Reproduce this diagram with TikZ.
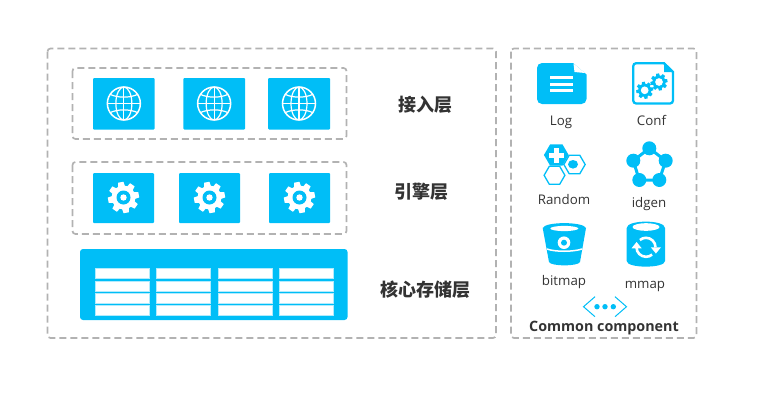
\documentclass[tikz,border=0pt]{standalone}
\usepackage{fontspec}
\setmainfont{Open Sans}
\newfontfamily\cjk{Noto Sans CJK SC}
\usetikzlibrary{positioning}
\definecolor{skyblue}{RGB}{0,190,247}
\definecolor{dashgray}{RGB}{178,178,178}
\definecolor{labelgray}{RGB}{51,51,51}

% teeth and body of a gear
\newcommand{\gearbody}{
    \foreach \ang in {0,45,...,315}
        \fill [pic actions, rotate=\ang+10] (-3.4,-11) -- (-2.7,-15.5) -- (2.7,-15.5) -- (3.4,-11) -- cycle;
    \fill [pic actions] (0,0) circle (12);
}

\tikzset{
    % white globe on a tile
    globe/.pic={
        \draw [white, line width=1.5pt] (0,0) circle (16.5);
        \draw [white, line width=1.2pt] (0,0) ellipse (8 and 16.5);
        \draw [white, line width=1.2pt] (0,-16.5) -- (0,16.5);
        \draw [white, line width=1.2pt] (-16.5,0) -- (16.5,0);
        \draw [white, line width=1.2pt] (-13.5,-9) .. controls (-6,-5.5) and (6,-5.5) .. (13.5,-9);
        \draw [white, line width=1.2pt] (-13.5,9) .. controls (-6,5.5) and (6,5.5) .. (13.5,9);
    },
    % gear on a tile
    gear/.pic={
        \gearbody
        \fill [skyblue] (0,0) circle (7);
        \fill [pic actions] (0,0) circle (3.2);
    },
    % small gear with a plain hole
    geartiny/.pic={
        \gearbody
        \fill [white] (0,0) circle (7);
    },
    % flat topped hexagon
    hexa/.pic={
        \path [pic actions] (-13,0) -- (-6.5,-11.2) -- (6.5,-11.2) -- (13,0) -- (6.5,11.2) -- (-6.5,11.2) -- cycle;
    }
}

\begin{document}
\begin{tikzpicture}
    [x=1pt, y=-1pt,
    % Dashed frames
    frame/.style={draw=dashgray, line width=1.7pt, dash pattern=on 7pt off 4pt, rounded corners=3pt},
    % Blue tiles
    tile/.style={fill=skyblue, rounded corners=1pt},
    % Rows of the table
    cell/.style={fill=white, draw=white!70!skyblue, line width=0.4pt},
    % Texts
    layer/.style={font=\cjk\bfseries\fontsize{18}{20}\selectfont, text=labelgray, inner sep=0pt},
    label/.style={font=\fontsize{13.3}{15}\selectfont, text=labelgray, inner sep=0pt}]
    \useasboundingbox (0,0) rectangle (758,407);
    % Frames
    \draw [frame] (47.5,48.5) rectangle (496,338);
    \draw [frame] (511,48.5) rectangle (696.5,338);
    \draw [frame] (72.5,68) rectangle (346.5,139);
    \draw [frame] (72.5,162) rectangle (346.5,234);
    % Access layer
    \foreach \xa/\xb in {93/154.7,183.3/245,268/330} {
        \fill [tile] (\xa,78) rectangle (\xb,129.5);
        \pic at ({(\xa+\xb)/2},103.5) {globe};
    }
    \node [layer] (access) at (425,105) {接入层};
    % Engine layer
    \foreach \xa/\xb in {93/154,179/240,269/330} {
        \fill [tile] (\xa,173) rectangle (\xb,223);
        \pic [fill=white] at ({(\xa+\xb)/2},197.5) {gear};
    }
    \node [layer] (engine) at (421,192) {引擎层};
    % Storage layer
    \fill [tile, rounded corners=3pt] (80,249) rectangle (347.5,320);
    \foreach \xa in {95,156.3,217.7,279}
        \foreach \ya/\yb in {268.5/278.5,280.8/290.8,293/303,305/315}
            \draw [cell] (\xa,\ya) rectangle (\xa+54,\yb);
    \node [layer] (storage) at (425,290) {核心存储层};
    % Log
    \fill [skyblue] (537,84) [rounded corners=5pt] -- (537,63) [sharp corners] -- (573,63) -- (586.5,74.5) [rounded corners=5pt] -- (586.5,104) -- (537,104) [sharp corners] -- cycle;
    \fill [white] (573.5,63.5) -- (585,73) -- (574.5,72) -- cycle;
    \foreach \ya in {77.3,84,90.7}
        \fill [white] (550,\ya-1.5) rectangle (573,\ya+1.5);
    \node [label] (log) at (561,122) {Log};
    % Conf
    \draw [skyblue, line width=2.3pt] (633.2,84) [rounded corners=3pt] -- (633.2,63.2) [sharp corners] -- (664,63.2) -- (673,72) [rounded corners=3pt] -- (673,103.5) -- (633.2,103.5) [sharp corners] -- cycle;
    \fill [skyblue] (664,62) -- (674,72) -- (664,72) -- cycle;
    \pic [fill=skyblue, scale=0.55] at (644.7,90.3) {geartiny};
    \pic [fill=skyblue, scale=0.55] at (659,82) {geartiny};
    \node [label] (conf) at (651.5,120.5) {Conf};
    % Random
    \pic [draw=skyblue, line width=1.3pt, scale=0.8] at (554.5,175.3) {hexa};
    \pic [draw=skyblue, line width=1.3pt, fill=white, scale=0.82] at (574.5,164.5) {hexa};
    \fill [skyblue] (573,164.3) ellipse (5 and 4.3);
    \pic [fill=skyblue, scale=0.95] at (556.3,155) {hexa};
    \fill [white] (553.7,148.3) rectangle (558.7,163.3);
    \fill [white] (548.7,153.3) rectangle (563.7,158.3);
    \node [label] (random) at (564,199.5) {Random};
    % idgen
    \draw [skyblue, line width=3pt] (649.3,148.3) -- (665.7,160.7) -- (659.3,180) -- (639.3,180) -- (633.3,160.7) -- cycle;
    \foreach \xa/\ya in {649.3/148.3,665.7/160.7,659.3/180,639.3/180,633.3/160.7}
        \fill [skyblue] (\xa,\ya) circle (7);
    \node [label] (idgen) at (649,204) {idgen};
    % bitmap
    \fill [skyblue] (542.7,228) .. controls (545,221.5) and (583.5,221.5) .. (586,228) -- (580,262) .. controls (578,266.5) and (551,266.5) .. (549,262) -- cycle;
    \fill [white] (564.3,228.5) ellipse (14 and 2.6);
    \draw [white, line width=1.5pt] (547,249) .. controls (555,252) and (573,252) .. (582,249);
    \fill [white] (564,242.7) circle (6.3);
    \fill [skyblue] (564,242.7) circle (3);
    \node [label] (bitmap) at (564,282.5) {bitmap};
    % mmap
    \fill [skyblue] (626.7,228) .. controls (626.7,219.5) and (665,219.5) .. (665,228) -- (665,261) .. controls (665,268.5) and (626.7,268.5) .. (626.7,261) -- cycle;
    \fill [white] (646,227) ellipse (13.5 and 3.8);
    \draw [white, line width=2.6pt] (636.5,247.3) arc (180:50:9.5);
    \draw [white, line width=2.6pt] (655.5,247.3) arc (0:-130:9.5);
    \fill [white] (631.5,248.3) -- (641.7,248.3) -- (636.6,242) -- cycle;
    \fill [white] (650.8,247.3) -- (661,247.3) -- (655.9,253.5) -- cycle;
    \node [label] (mmap) at (645,286) {mmap};
    % Common component
    \draw [skyblue, line width=1pt] (595,296.7) -- (583.5,306.7) -- (595,316.7);
    \draw [skyblue, line width=1pt] (615,296.7) -- (626.5,306.7) -- (615,316.7);
    \foreach \xa in {597,605,613.3}
        \fill [skyblue] (\xa,306.7) circle (2.7);
    \node [label, font=\bfseries\fontsize{14.3}{16}\selectfont] (common) at (604,328) {Common component};
\end{tikzpicture}
\end{document}
